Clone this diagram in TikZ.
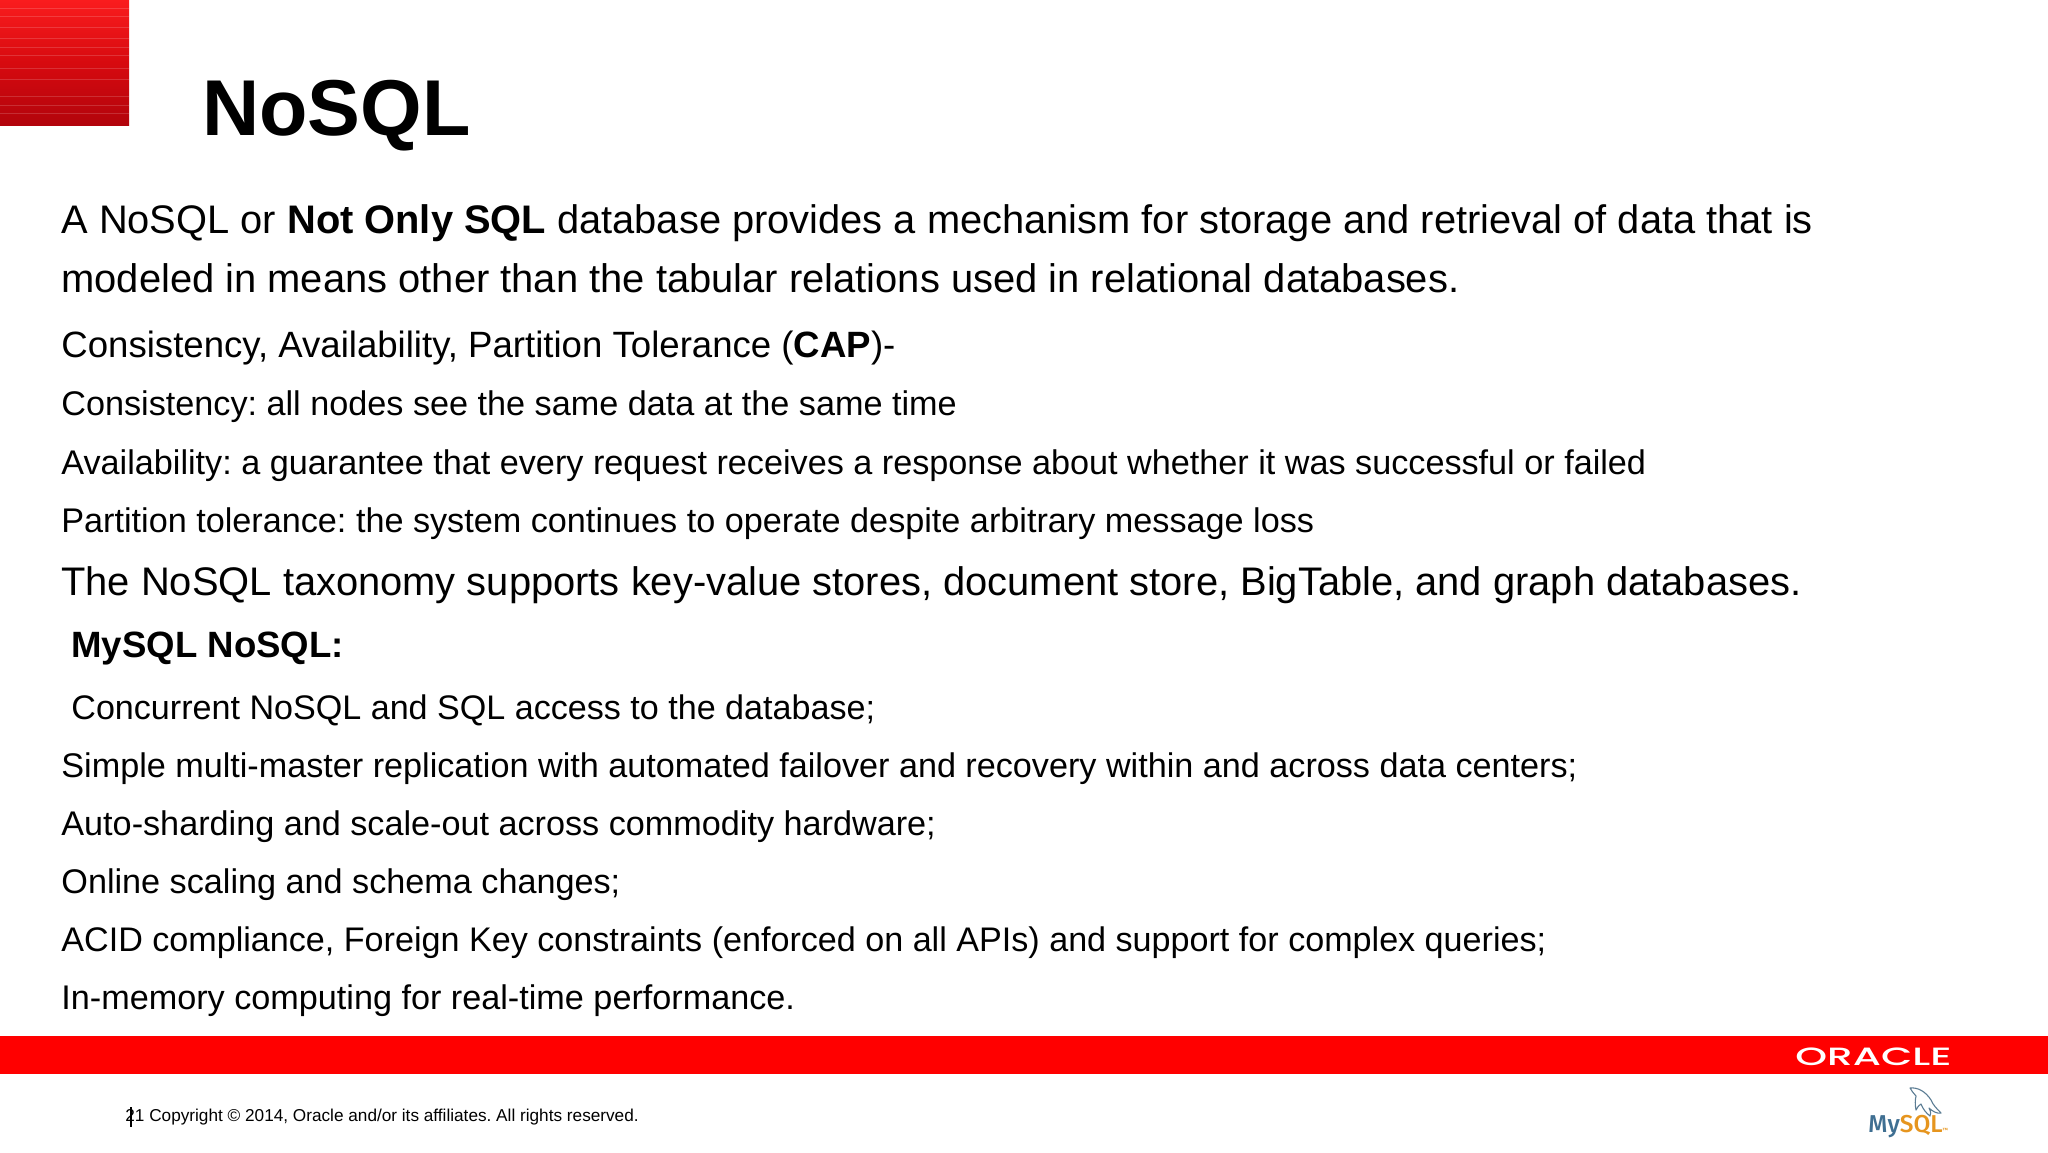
\documentclass[tikz,border=0pt]{standalone}
\usepackage{fontspec}
\setmainfont{Liberation Sans}
\newfontfamily\logofont{Poppins Medium}
\newfontfamily\mysqlfont{Fira Sans Medium}
\definecolor{sqtop}{RGB}{250,28,30}
\definecolor{sqmid}{RGB}{215,10,15}
\definecolor{sqbot}{RGB}{178,4,12}
\definecolor{dolphin}{RGB}{92,125,148}
\tikzset{
  x=0.5pt,y=-0.5pt,
  txt/.style={anchor=base west,inner sep=0pt,text=black,font=\fontsize{#1}{#1}\selectfont\frenchspacing},
  stripe/.style={line width=0.5pt,opacity=.16}
}
\begin{document}
\begin{tikzpicture}
\useasboundingbox[fill=white] (0,0) rectangle (2048,1152);
\shade[top color=sqtop,bottom color=sqbot,middle color=sqmid] (0,0) rectangle (129,125);
\foreach \yy in {8,16,27,38,47,55,68,79,96,105,113}{
  \draw[stripe,draw=white] (0,\yy) -- (129,\yy);
}
\node[txt=39.6pt] (title) at (202,135) {\textbf{NoSQL}};
\node[txt=19.92pt] (l1) at (61,233.5) {A NoSQL or \textbf{Not Only SQL} database provides a mechanism for storage and retrieval of data that is};
\node[txt=19.96pt] (l2) at (61,292.5) {modeled in means other than the tabular relations used in relational databases.};
\node[txt=18.3pt] (l3) at (61,357) {Consistency, Availability, Partition Tolerance (\textbf{CAP})-};
\node[txt=17.1pt] (l4) at (61,415.5) {Consistency: all nodes see the same data at the same time};
\node[txt=17.1pt] (l5) at (61,474) {Availability: a guarantee that every request receives a response about whether it was successful or failed};
\node[txt=17.1pt] (l6) at (61,532) {Partition tolerance: the system continues to operate despite arbitrary message loss};
\node[txt=19.94pt] (l7) at (61,595.5) {The NoSQL taxonomy supports key-value stores, document store, BigTable, and graph databases.};
\node[txt=18.3pt] (l8) at (71,657) {\textbf{MySQL NoSQL:}};
\node[txt=17.05pt] (l9) at (71,719) {Concurrent NoSQL and SQL access to the database;};
\node[txt=17.09pt] (l10) at (61,777) {Simple multi-master replication with automated failover and recovery within and across data centers;};
\node[txt=17.1pt] (l11) at (61,835) {Auto-sharding and scale-out across commodity hardware;};
\node[txt=17.1pt] (l12) at (61,893) {Online scaling and schema changes;};
\node[txt=17.06pt] (l13) at (61,951) {ACID compliance, Foreign Key constraints (enforced on all APIs) and support for complex queries;};
\node[txt=17.1pt] (l14) at (61,1009) {In-memory computing for real-time performance.};
\fill[red] (0,1036) rectangle (2048,1074);
\node[anchor=base west,inner sep=0pt,text=white,font=\logofont\fontsize{12.5pt}{12.5pt}\selectfont] (oracle) at (1795,1065) {\scalebox{1.62}[1]{ORACLE}};
\node[txt=8.6pt] (foot) at (125,1121) {21 Copyright © 2014, Oracle and/or its affiliates. All rights reserved.};
\draw[black,line width=0.7pt] (131,1107) -- (131,1127);
\node[anchor=base west,inner sep=0pt,font=\mysqlfont\fontsize{12.2pt}{12.2pt}\selectfont] (mysql) at (1868,1132) {\textcolor[HTML]{3F6F92}{My}\textcolor[HTML]{E6951E}{SQL}\textcolor[HTML]{E6951E}{\fontsize{3pt}{3pt}\selectfont ™}};
\draw[draw=dolphin,line width=0.55pt,line join=round]
 (1910,1088) .. controls (1918,1087) and (1926,1092) .. (1931,1100)
 .. controls (1933,1105) and (1937,1109) .. (1941,1113)
 .. controls (1937,1114) and (1932,1111) .. (1929,1108)
 .. controls (1931,1112) and (1931,1114) .. (1930,1116)
 .. controls (1926,1113) and (1923,1109) .. (1921,1104)
 .. controls (1918,1106) and (1917,1108) .. (1916,1110)
 .. controls (1915,1105) and (1915,1100) .. (1916,1096)
 .. controls (1914,1093) and (1911,1091) .. (1910,1088) -- cycle;
\end{tikzpicture}
\end{document}
